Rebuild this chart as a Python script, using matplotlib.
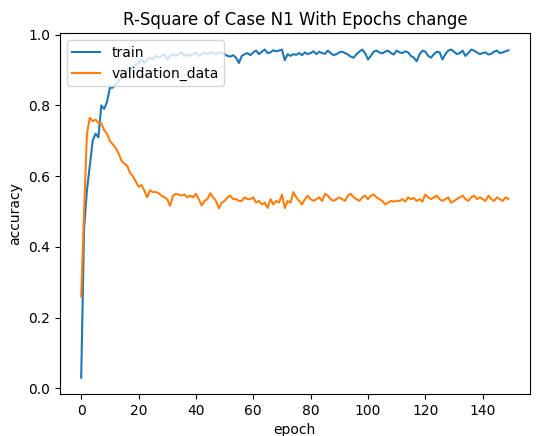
import matplotlib
matplotlib.use("Agg")
import matplotlib.pyplot as plt

train=[0.03,0.45,0.56,0.63,0.70,0.72,0.71,0.80,0.79,0.81,
 0.85,0.85,0.86,0.87,0.875,0.88,0.90,0.90,0.91,0.915,
 0.92,0.93,0.92,0.93,0.935,0.93,0.94,0.935,0.94,0.945,
 0.93,0.94,0.945,0.94,0.945,0.95,0.94,0.945,0.94,0.945,
 0.95,0.94,0.945,0.95,0.945,0.95,0.948,0.945,0.95,0.948,
 0.945,0.94,0.938,0.942,0.935,0.92,0.94,0.945,0.948,0.942,
 0.95,0.955,0.945,0.952,0.958,0.948,0.95,0.956,0.953,0.955,
 0.958,0.928,0.945,0.94,0.945,0.943,0.948,0.942,0.95,0.945,
 0.948,0.953,0.945,0.952,0.948,0.946,0.955,0.948,0.942,0.945,
 0.95,0.952,0.948,0.944,0.938,0.935,0.945,0.952,0.958,0.948,
 0.93,0.94,0.952,0.955,0.95,0.947,0.952,0.955,0.948,0.944,
 0.955,0.95,0.948,0.953,0.95,0.94,0.935,0.925,0.945,0.955,
 0.952,0.94,0.935,0.945,0.952,0.95,0.93,0.945,0.955,0.958,
 0.952,0.945,0.948,0.955,0.94,0.948,0.958,0.955,0.95,0.945,
 0.948,0.95,0.944,0.946,0.952,0.955,0.948,0.95,0.953,0.956]

val=[0.26,0.50,0.72,0.765,0.755,0.76,0.75,0.75,0.73,0.72,
 0.70,0.69,0.68,0.665,0.645,0.635,0.63,0.61,0.60,0.585,
 0.57,0.575,0.56,0.54,0.56,0.555,0.555,0.552,0.545,0.54,
 0.535,0.516,0.545,0.55,0.548,0.545,0.548,0.54,0.545,0.54,
 0.55,0.535,0.517,0.53,0.535,0.552,0.54,0.53,0.509,0.525,
 0.53,0.54,0.545,0.535,0.535,0.53,0.53,0.54,0.535,0.535,
 0.54,0.525,0.53,0.52,0.525,0.51,0.535,0.52,0.53,0.525,
 0.548,0.51,0.53,0.525,0.555,0.54,0.53,0.52,0.535,0.545,
 0.535,0.53,0.535,0.54,0.53,0.55,0.545,0.535,0.53,0.535,
 0.54,0.535,0.53,0.545,0.55,0.54,0.535,0.53,0.54,0.545,
 0.535,0.545,0.548,0.54,0.535,0.53,0.52,0.525,0.53,0.528,
 0.53,0.53,0.535,0.528,0.54,0.535,0.538,0.53,0.535,0.528,
 0.548,0.54,0.535,0.54,0.545,0.535,0.53,0.535,0.54,0.525,
 0.53,0.535,0.54,0.545,0.535,0.53,0.54,0.545,0.535,0.54,
 0.535,0.53,0.545,0.535,0.53,0.54,0.535,0.53,0.54,0.535]

epochs=range(len(train))

fig=plt.figure(figsize=(5.39,4.36),dpi=100)
ax=fig.add_axes([0.111,0.096,0.872,0.828])
ax.plot(epochs,train,label="train")
ax.plot(epochs,val,label="validation_data")
ax.set_title("R-Square of Case N1 With Epochs change")
ax.set_xlabel("epoch")
ax.set_ylabel("accuracy")
ax.legend(loc="upper left")
fig.savefig("out.png")
